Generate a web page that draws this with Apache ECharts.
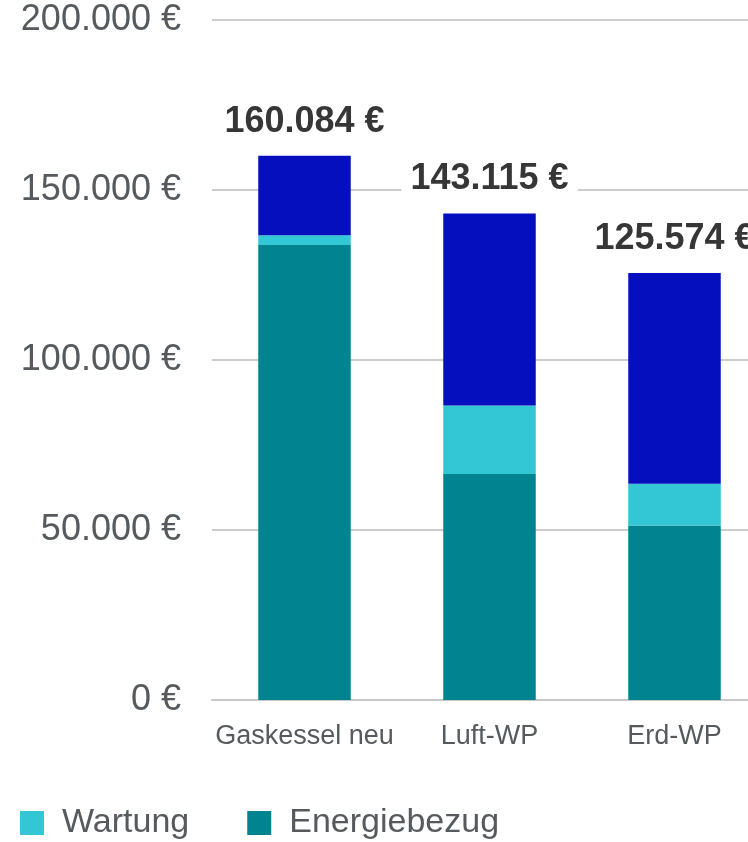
<!DOCTYPE html>
<html>
<head>
<meta charset="utf-8">
<script src="https://cdn.jsdelivr.net/npm/echarts@6/dist/echarts.min.js"></script>
<style>
  html, body {margin: 0; padding: 0; background: #fff;}
  #chart {width: 748px; height: 842px;}
</style>
</head>
<body>
<div id="chart"></div>
<script>
const categories = ['Gaskessel neu', 'Luft-WP', 'Erd-WP']
const energiebezug = [133800, 66500, 51300]
const wartung = [2900, 20100, 12300]
const investition = [23384, 56515, 61974]
const totals = [160084, 143115, 125574]
const yTicks = [0, 50000, 100000, 150000, 200000]

function fmt(v) {
  return String(Math.round(v)).replace(/\B(?=(\d{3})+(?!\d))/g, '.') + ' €'
}

const font = '"Liberation Sans", Arial, sans-serif'
const grey = '#555a5e'

const myChart = echarts.init(document.getElementById('chart'))
myChart.setOption({
  animation: false,
  textStyle: {fontFamily: font},
  legend: {
    left: 15,
    top: 801,
    itemWidth: 24,
    itemHeight: 24,
    itemGap: 58,
    icon: 'rect',
    textStyle: {color: grey, fontSize: 34, fontFamily: font, padding: [0, 0, 0, 13]},
    data: ['Wartung', 'Energiebezug']
  },
  grid: {
    left: 212,
    top: 20,
    width: 555,
    bottom: 142,
    containLabel: false,
    outerBoundsMode: 'none'
  },
  xAxis: {
    type: 'category',
    data: categories,
    axisTick: {show: false},
    axisLine: {lineStyle: {color: '#c8c8c8', width: 2}},
    axisLabel: {color: grey, fontSize: 27, margin: 23, interval: 0, fontFamily: font}
  },
  yAxis: {
    type: 'value',
    min: yTicks[0],
    max: yTicks[yTicks.length - 1],
    interval: 50000,
    axisLine: {show: false},
    axisTick: {show: false},
    splitLine: {lineStyle: {color: '#cccccc', width: 2}},
    axisLabel: {
      color: grey,
      fontSize: 36,
      margin: 31,
      fontFamily: font,
      formatter: fmt
    }
  },
  series: [
    {name: 'Energiebezug', data: energiebezug, color: '#028390'},
    {name: 'Wartung', data: wartung, color: '#33c6d5'},
    {
      name: 'Investition',
      data: investition,
      color: '#050fbe',
      label: {
        show: true,
        position: 'top',
        distance: 14,
        formatter: p => fmt(totals[p.dataIndex]),
        color: '#363636',
        fontSize: 36,
        fontWeight: 'bold',
        fontFamily: font,
        backgroundColor: '#ffffff',
        padding: [2, 9]
      }
    }
  ].map(obj => ({
    ...obj,
    type: 'bar',
    stack: 'total',
    barWidth: '50%'
  }))
})
</script>
</body>
</html>
